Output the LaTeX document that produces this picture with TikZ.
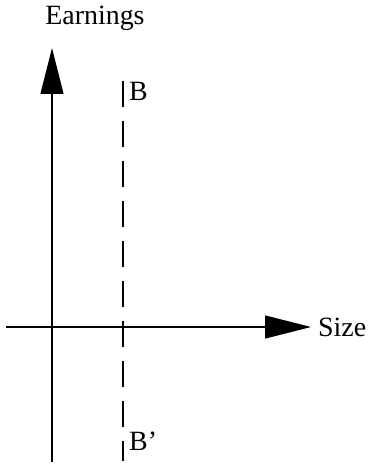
\documentclass[tikz,border=0pt]{standalone}
\usepackage{fontspec}
\setmainfont{Liberation Serif}
\usetikzlibrary{arrows.meta,positioning}

\begin{document}
\begin{tikzpicture}[
    x=1bp,
    y=-1bp,
    axis/.style={
        -{Triangle[length=46bp,width=23bp]},
        line width=1.3bp
    },
    boundary/.style={
        line width=1.3bp,
        dash pattern=on 26bp off 14bp
    },
    lbl/.style={
        font=\fontsize{28}{32}\selectfont,
        inner sep=0pt
    }
]

\useasboundingbox (0,0) rectangle (368,465);

\coordinate (ybottom) at (52,462);
\coordinate (ytop) at (52,48);
\coordinate (xleft) at (6,327);
\coordinate (xright) at (311,327);
\coordinate (btop) at (123,81);
\coordinate (bbottom) at (123,461);

\node[lbl, anchor=base] (earnings) at (95,25) {Earnings};
\node[lbl, anchor=west] (size) at (318,327) {Size};
\node[lbl, anchor=north west] (b) at (129,82) {B};
\node[lbl, anchor=north west] (bprime) at (129,432) {B'};

\draw[axis] (ybottom) -- (ytop);
\draw[axis] (xleft) -- (xright);
\draw[boundary] (btop) -- (bbottom);

\end{tikzpicture}
\end{document}
